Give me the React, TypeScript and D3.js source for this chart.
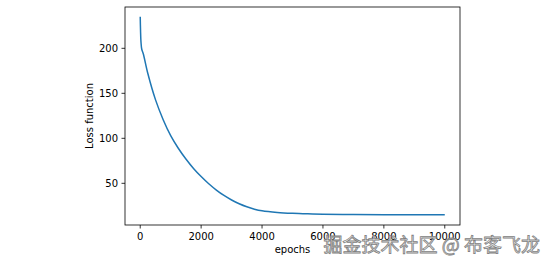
import React from "react";
import * as d3 from "d3";

const epochs = [0, 10, 25, 50, 100, 250, 500, 750, 1000, 1250, 1500, 1750, 2000, 2250, 2500, 2750, 3000, 3250, 3500, 3750, 4000, 4500, 5000, 5500, 6000, 7000, 8000, 9000, 10000];
const loss = [235, 220, 207, 199, 194, 172, 143, 121, 103, 89, 77, 66.5, 57.5, 49.5, 42.5, 36.5, 31.5, 27.3, 23.9, 21.3, 19.5, 17.7, 16.7, 16.1, 15.7, 15.3, 15.1, 15, 15];
const xTicks = [0, 2000, 4000, 6000, 8000, 10000];
const yTicks = [50, 100, 150, 200];

const W = 550, H = 265;
const L = 125, R = 460, T = 7, B = 225;

export default function App() {
  const xMin = -500, xMax = 10500;
  const lo = 14.7, hi = 234.9, pad = (hi - lo) * 0.05;
  const x = d3.scaleLinear().domain([xMin, xMax]).range([L, R]);
  const y = d3.scaleLinear().domain([lo - pad, hi + pad]).range([B, T]);
  const pts = epochs.map((e, i) => [e, loss[i]] as [number, number]);
  const line = d3.line<[number, number]>().x(d => x(d[0])).y(d => y(d[1])).curve(d3.curveCatmullRom.alpha(0.5));
  const font = "DejaVu Sans, sans-serif";
  return (
    <svg width={W} height={H} style={{ position: "absolute", left: 0, top: 0, background: "#fff" }} fontFamily={font}>
      <rect x={0} y={0} width={W} height={H} fill="#fff" />
      <path d={line(pts) || ""} fill="none" stroke="#1f77b4" strokeWidth={1.5} />
      <rect x={L} y={T} width={R - L} height={B - T} fill="none" stroke="#000" strokeWidth={0.8} />
      {xTicks.map(t => (
        <g key={t}>
          <line x1={x(t)} x2={x(t)} y1={B} y2={B + 3.5} stroke="#000" strokeWidth={0.8} />
          <text x={x(t)} y={239.5} fontSize={10} textAnchor="middle" fill="#000">{t}</text>
        </g>
      ))}
      {yTicks.map(t => (
        <g key={t}>
          <line x1={L - 3.5} x2={L} y1={y(t)} y2={y(t)} stroke="#000" strokeWidth={0.8} />
          <text x={L - 7} y={y(t)} dy="0.36em" fontSize={10} textAnchor="end" fill="#000">{t}</text>
        </g>
      ))}
      <text x={(L + R) / 2} y={253} fontSize={10} textAnchor="middle" fill="#000">epochs</text>
      <text transform={`translate(93,${(T + B) / 2}) rotate(-90)`} fontSize={10} textAnchor="middle" fill="#000">Loss function</text>
      <text x={540} y={252} fontSize={19} textAnchor="end" fill="#f4f4f4" stroke="#808080" strokeWidth={0.8}
        fontFamily="Noto Sans CJK SC, sans-serif">掘金技术社区 @ 布客飞龙</text>
    </svg>
  );
}
